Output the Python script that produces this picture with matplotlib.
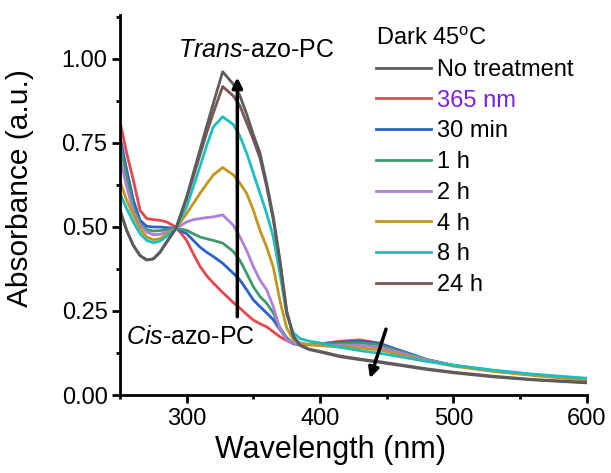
"""UV-vis spectra of azo-PC: trans -> cis after 365 nm, then dark relaxation at 45 C."""

import matplotlib
matplotlib.use("Agg")
import matplotlib.pyplot as plt
import matplotlib.ticker as ticker

plt.rcParams["font.family"] = ["Liberation Sans", "DejaVu Sans"]
plt.rcParams["mathtext.fontset"] = "custom"
plt.rcParams["mathtext.rm"] = "Liberation Sans"
plt.rcParams["mathtext.it"] = "Liberation Sans:italic"

# wavelength grid (nm)
wavelength = [250, 255, 260, 265, 270, 275, 280, 285, 292, 300, 305, 310, 315,
              320, 327, 335, 340, 345, 350, 355, 360, 365, 370, 375, 380, 385,
              392, 400, 415, 430, 445, 460, 480, 500, 530, 560, 600]

no_treatment = [0.550, 0.490, 0.445, 0.415, 0.402, 0.405, 0.425, 0.455, 0.496,
                0.590, 0.660, 0.730, 0.800, 0.868, 0.962, 0.925, 0.890, 0.836,
                0.775, 0.720, 0.630, 0.530, 0.400, 0.250, 0.175, 0.148, 0.135,
                0.128, 0.114, 0.105, 0.097, 0.088, 0.076, 0.066, 0.054, 0.045,
                0.036]
uv_365 = [0.813, 0.720, 0.640, 0.550, 0.525, 0.522, 0.520, 0.515, 0.500,
          0.460, 0.420, 0.383, 0.355, 0.333, 0.305, 0.275, 0.258, 0.240,
          0.223, 0.212, 0.203, 0.188, 0.173, 0.162, 0.153, 0.149, 0.149,
          0.152, 0.160, 0.164, 0.154, 0.130, 0.104, 0.088, 0.072, 0.060,
          0.048]
dark_30min = [0.769, 0.670, 0.580, 0.520, 0.502, 0.500, 0.500, 0.498, 0.496,
              0.480, 0.460, 0.440, 0.425, 0.412, 0.392, 0.362, 0.342, 0.313,
              0.283, 0.263, 0.244, 0.224, 0.194, 0.169, 0.153, 0.150, 0.150,
              0.151, 0.157, 0.160, 0.153, 0.133, 0.106, 0.088, 0.072, 0.060,
              0.048]
dark_1h = [0.749, 0.650, 0.560, 0.510, 0.492, 0.488, 0.489, 0.492, 0.496,
           0.490, 0.480, 0.470, 0.465, 0.460, 0.452, 0.427, 0.400, 0.362,
           0.322, 0.293, 0.273, 0.244, 0.200, 0.170, 0.155, 0.152, 0.150,
           0.150, 0.153, 0.155, 0.149, 0.130, 0.105, 0.088, 0.072, 0.060,
           0.047]
dark_2h = [0.704, 0.620, 0.545, 0.505, 0.485, 0.477, 0.478, 0.485, 0.496,
           0.515, 0.522, 0.525, 0.528, 0.530, 0.536, 0.505, 0.470, 0.430,
           0.382, 0.342, 0.313, 0.263, 0.194, 0.164, 0.155, 0.152, 0.150,
           0.148, 0.148, 0.148, 0.142, 0.126, 0.104, 0.088, 0.072, 0.060,
           0.046]
dark_4h = [0.635, 0.580, 0.535, 0.495, 0.470, 0.462, 0.465, 0.478, 0.496,
           0.540, 0.570, 0.600, 0.628, 0.655, 0.677, 0.655, 0.630, 0.600,
           0.550, 0.490, 0.440, 0.380, 0.280, 0.200, 0.165, 0.155, 0.150,
           0.147, 0.143, 0.140, 0.134, 0.120, 0.101, 0.086, 0.070, 0.058,
           0.044]
dark_8h = [0.600, 0.555, 0.515, 0.480, 0.460, 0.453, 0.458, 0.472, 0.496,
           0.560, 0.620, 0.680, 0.742, 0.798, 0.828, 0.805, 0.770, 0.720,
           0.660, 0.600, 0.540, 0.470, 0.360, 0.240, 0.185, 0.168, 0.160,
           0.155, 0.142, 0.132, 0.124, 0.114, 0.100, 0.089, 0.074, 0.062,
           0.050]
dark_24h = [0.550, 0.490, 0.445, 0.415, 0.402, 0.405, 0.425, 0.455, 0.496,
            0.585, 0.650, 0.715, 0.780, 0.840, 0.918, 0.890, 0.860, 0.810,
            0.760, 0.705, 0.620, 0.520, 0.395, 0.248, 0.175, 0.148, 0.136,
            0.130, 0.116, 0.107, 0.099, 0.090, 0.078, 0.068, 0.056, 0.046,
            0.038]

labels = ["No treatment", "365 nm", "30 min", "1 h", "2 h", "4 h", "8 h", "24 h"]
series = [no_treatment, uv_365, dark_30min, dark_1h, dark_2h, dark_4h,
          dark_8h, dark_24h]
colors = ["#5c5c5c", "#e4474d", "#2b62c8", "#3e9a6c", "#b07fd6", "#c3961d",
          "#1cbfbf", "#7a5555"]

fig = plt.figure(figsize=(6.11, 4.73), dpi=100)
ax = fig.add_axes([0.1964, 0.1649, 0.7638, 0.8035])

# draw so the untreated / 24 h spectra sit on top
handles = {}
for i in [1, 2, 3, 4, 5, 6, 7, 0]:
    (ln,) = ax.plot(wavelength, series[i], color=colors[i], lw=2.0,
                    label=labels[i], solid_joinstyle="round")
    handles[i] = ln

ax.set_xlim(250, 600)
ax.set_ylim(0, 1.131)
ax.xaxis.set_major_locator(ticker.FixedLocator([300, 400, 500, 600]))
ax.xaxis.set_minor_locator(ticker.FixedLocator([250, 350, 450, 550]))
ax.yaxis.set_major_locator(ticker.MultipleLocator(0.25))
ax.yaxis.set_minor_locator(ticker.MultipleLocator(0.125))
ax.yaxis.set_major_formatter(ticker.FormatStrFormatter("%.2f"))

for side in ["top", "right"]:
    ax.spines[side].set_visible(False)
for side in ["left", "bottom"]:
    ax.spines[side].set_linewidth(2.0)
ax.tick_params(which="major", direction="out", length=6, width=2,
               labelsize=17, pad=3)
ax.tick_params(which="minor", direction="out", length=3, width=2)

ax.set_xlabel("Wavelength (nm)", fontsize=22)
ax.xaxis.set_label_coords(0.45, -0.105)
ax.set_ylabel("Absorbance (a.u.)", fontsize=21.5)
ax.yaxis.set_label_coords(-0.185, 0.545)

# conversion arrows
ax.annotate("", xy=(338, 0.945), xytext=(338, 0.233),
            arrowprops=dict(arrowstyle="-|>", color="black", lw=2.5,
                            mutation_scale=15, shrinkA=0, shrinkB=0))
ax.annotate("", xy=(437.5, 0.05), xytext=(449.5, 0.196),
            arrowprops=dict(arrowstyle="-|>", color="black", lw=2.5,
                            mutation_scale=15, shrinkA=0, shrinkB=0))

ax.text(352, 1.027, r"$\mathit{Trans}$-azo-PC", fontsize=18,
        ha="center", va="center")
ax.text(303, 0.1735, r"$\mathit{Cis}$-azo-PC", fontsize=18,
        ha="center", va="center")

leg = ax.legend([handles[i] for i in range(8)], labels,
                title="Dark 45$^{\\mathregular{o}}$C", fontsize=17,
                title_fontsize=17, frameon=False, loc="upper left",
                bbox_to_anchor=(376 / 611, 1 - 28 / 473),
                bbox_transform=fig.transFigure, borderpad=0,
                borderaxespad=0, handlelength=2.35, handletextpad=0.25,
                labelspacing=0.37)
leg._legend_box.align = "left"
leg.get_texts()[1].set_color("#7a1fe6")

fig.savefig("out.png", dpi=100)
